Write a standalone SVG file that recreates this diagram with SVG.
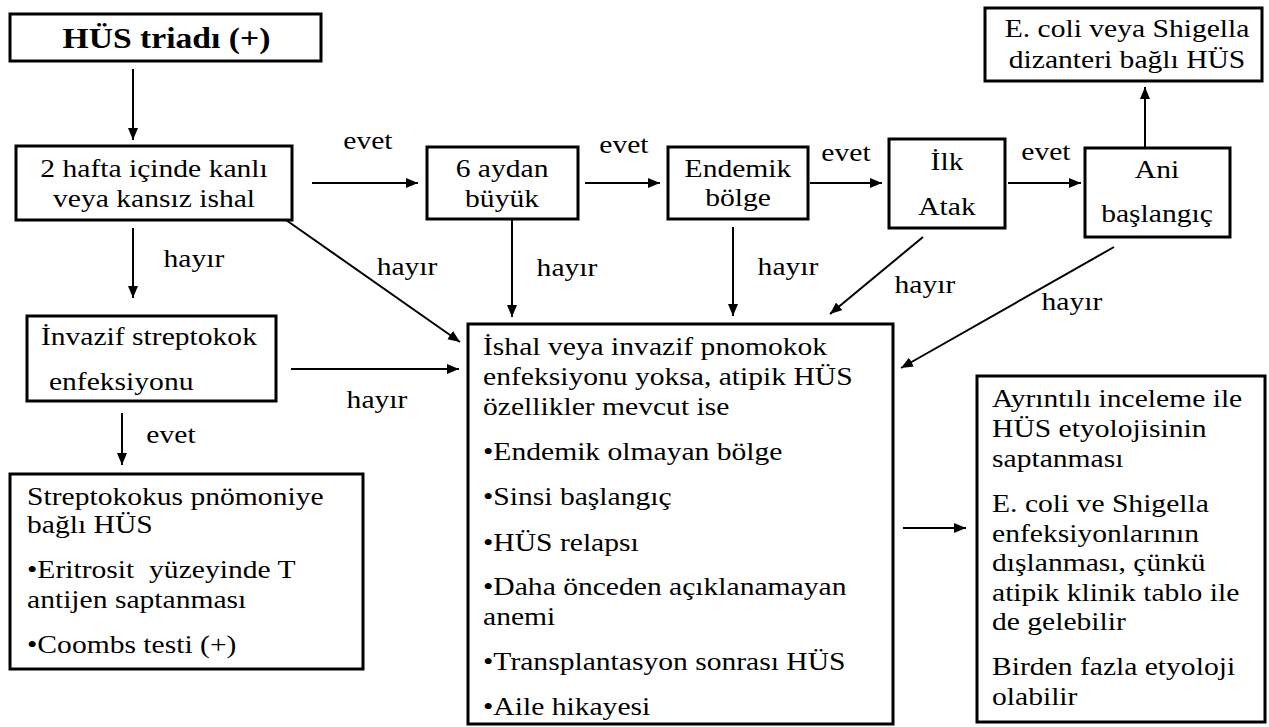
<svg xmlns="http://www.w3.org/2000/svg" width="1269" height="727" viewBox="0 0 1269 727" font-family="'Liberation Serif', 'DejaVu Serif', serif">
<style>
.box{fill:#fff;stroke:#000;stroke-width:3}
.t{font-family:'Liberation Serif','DejaVu Serif',serif;font-size:25.5px;fill:#000}
.c{text-anchor:middle}
.b{font-weight:bold;font-size:29px}
.con line{stroke:#000;stroke-width:2;marker-end:url(#ah)}
</style>
<defs>
<marker id="ah" markerUnits="userSpaceOnUse" markerWidth="14" markerHeight="12" refX="12" refY="5" orient="auto">
<path d="M0,0 L12,5 L0,10 Z" fill="#000"/>
</marker>
</defs>
<rect width="1269" height="727" fill="#fff"/>

<g id="connectors" class="con">
<line x1="133" y1="69" x2="133" y2="140"/>
<line x1="312" y1="183" x2="418" y2="183"/>
<line x1="585" y1="183" x2="660" y2="183"/>
<line x1="810" y1="183" x2="882" y2="183"/>
<line x1="1008" y1="183" x2="1081" y2="183"/>
<line x1="1145" y1="147" x2="1145" y2="87"/>
<line x1="286" y1="220" x2="460" y2="342"/>
<line x1="512" y1="219" x2="512" y2="317"/>
<line x1="733" y1="227" x2="733" y2="316"/>
<line x1="923" y1="237" x2="830" y2="314"/>
<line x1="1114" y1="247" x2="901" y2="368"/>
<line x1="133" y1="228" x2="133" y2="298"/>
<line x1="291" y1="369" x2="459" y2="369"/>
<line x1="122" y1="413" x2="122" y2="465"/>
<line x1="903" y1="528" x2="966" y2="528"/>
<g class="t">
<text transform="scale(1.16 1)" class="c" x="317.2" y="149">evet</text>
<text transform="scale(1.16 1)" class="c" x="537.9" y="153">evet</text>
<text transform="scale(1.16 1)" class="c" x="729.3" y="161">evet</text>
<text transform="scale(1.16 1)" class="c" x="901.7" y="160">evet</text>
<text transform="scale(1.16 1)" class="c" x="350.9" y="275">hayır</text>
<text transform="scale(1.16 1)" class="c" x="488.8" y="276">hayır</text>
<text transform="scale(1.16 1)" class="c" x="679.3" y="275">hayır</text>
<text transform="scale(1.16 1)" class="c" x="797.4" y="293">hayır</text>
<text transform="scale(1.16 1)" class="c" x="924.1" y="310">hayır</text>
<text transform="scale(1.16 1)" class="c" x="167.2" y="267">hayır</text>
<text transform="scale(1.16 1)" class="c" x="325" y="408">hayır</text>
<text transform="scale(1.16 1)" class="c" x="147.4" y="443">evet</text>
</g>
</g>

<g id="n-triad">
<rect class="box" x="10" y="14" width="311" height="47"/>
<text class="t b c" transform="scale(1.16 1)" x="143.5" y="48">HÜS triadı (+)</text>
</g>

<g id="n-ishal">
<rect class="box" x="16" y="146" width="276" height="74"/>
<text class="t c" transform="scale(1.16 1)" x="132.8" y="177">2 hafta içinde kanlı</text>
<text class="t c" transform="scale(1.16 1)" x="132.8" y="207">veya kansız ishal</text>
</g>

<g id="n-6ay">
<rect class="box" x="427" y="147" width="151" height="72"/>
<text class="t c" transform="scale(1.16 1)" x="432.8" y="177">6 aydan</text>
<text class="t c" transform="scale(1.16 1)" x="432.8" y="207">büyük</text>
</g>

<g id="n-endemik">
<rect class="box" x="668" y="147" width="140" height="72"/>
<text class="t c" transform="scale(1.16 1)" x="636.2" y="177">Endemik</text>
<text class="t c" transform="scale(1.16 1)" x="636.2" y="206">bölge</text>
</g>

<g id="n-ilk">
<rect class="box" x="889" y="139" width="116" height="89"/>
<text class="t c" transform="scale(1.16 1)" x="816.4" y="170">İlk</text>
<text class="t c" transform="scale(1.16 1)" x="816.4" y="215">Atak</text>
</g>

<g id="n-ani">
<rect class="box" x="1085" y="148" width="145" height="89"/>
<text class="t c" transform="scale(1.16 1)" x="997.4" y="178">Ani</text>
<text class="t c" transform="scale(1.16 1)" x="997.4" y="222">başlangıç</text>
</g>

<g id="n-ecoli">
<rect class="box" x="985" y="8" width="277" height="73"/>
<text class="t c" transform="scale(1.16 1)" x="971.6" y="37">E. coli veya Shigella</text>
<text class="t c" transform="scale(1.16 1)" x="971.6" y="68">dizanteri bağlı HÜS</text>
</g>

<g id="n-invazif">
<rect class="box" x="27" y="316" width="249" height="85"/>
<text class="t" transform="scale(1.16 1)" x="35.3" y="345">İnvazif streptokok</text>
<text class="t" transform="scale(1.16 1)" x="42.2" y="390">enfeksiyonu</text>
</g>

<g id="n-strep">
<rect class="box" x="10" y="474" width="353" height="195"/>
<text class="t" transform="scale(1.16 1)" x="23.3" y="505">Streptokokus pnömoniye</text>
<text class="t" transform="scale(1.16 1)" x="23.3" y="533">bağlı HÜS</text>
<text class="t" transform="scale(1.16 1)" x="23.3" y="578" xml:space="preserve">•Eritrosit  yüzeyinde T</text>
<text class="t" transform="scale(1.16 1)" x="23.3" y="608">antijen saptanması</text>
<text class="t" transform="scale(1.16 1)" x="23.3" y="653">•Coombs testi (+)</text>
</g>

<g id="n-atipik">
<rect class="box" x="468" y="324" width="425" height="400"/>
<text class="t" transform="scale(1.16 1)" x="416.4" y="355">İshal veya invazif pnomokok</text>
<text class="t" transform="scale(1.16 1)" x="416.4" y="385">enfeksiyonu yoksa, atipik HÜS</text>
<text class="t" transform="scale(1.16 1)" x="416.4" y="415">özellikler mevcut ise</text>
<text class="t" transform="scale(1.16 1)" x="416.4" y="460">•Endemik olmayan bölge</text>
<text class="t" transform="scale(1.16 1)" x="416.4" y="505">•Sinsi başlangıç</text>
<text class="t" transform="scale(1.16 1)" x="416.4" y="551">•HÜS relapsı</text>
<text class="t" transform="scale(1.16 1)" x="416.4" y="595">•Daha önceden açıklanamayan</text>
<text class="t" transform="scale(1.16 1)" x="416.4" y="625">anemi</text>
<text class="t" transform="scale(1.16 1)" x="416.4" y="670">•Transplantasyon sonrası HÜS</text>
<text class="t" transform="scale(1.16 1)" x="416.4" y="715">•Aile hikayesi</text>
</g>

<g id="n-etyoloji">
<rect class="box" x="977" y="376" width="288" height="346"/>
<text class="t" transform="scale(1.16 1)" x="855.2" y="407">Ayrıntılı inceleme ile</text>
<text class="t" transform="scale(1.16 1)" x="855.2" y="437">HÜS etyolojisinin</text>
<text class="t" transform="scale(1.16 1)" x="855.2" y="467">saptanması</text>
<text class="t" transform="scale(1.16 1)" x="855.2" y="512">E. coli ve Shigella</text>
<text class="t" transform="scale(1.16 1)" x="855.2" y="542">enfeksiyonlarının</text>
<text class="t" transform="scale(1.16 1)" x="855.2" y="571">dışlanması, çünkü</text>
<text class="t" transform="scale(1.16 1)" x="855.2" y="601">atipik klinik tablo ile</text>
<text class="t" transform="scale(1.16 1)" x="855.2" y="630">de gelebilir</text>
<text class="t" transform="scale(1.16 1)" x="855.2" y="675">Birden fazla etyoloji</text>
<text class="t" transform="scale(1.16 1)" x="855.2" y="705">olabilir</text>
</g>
</svg>
